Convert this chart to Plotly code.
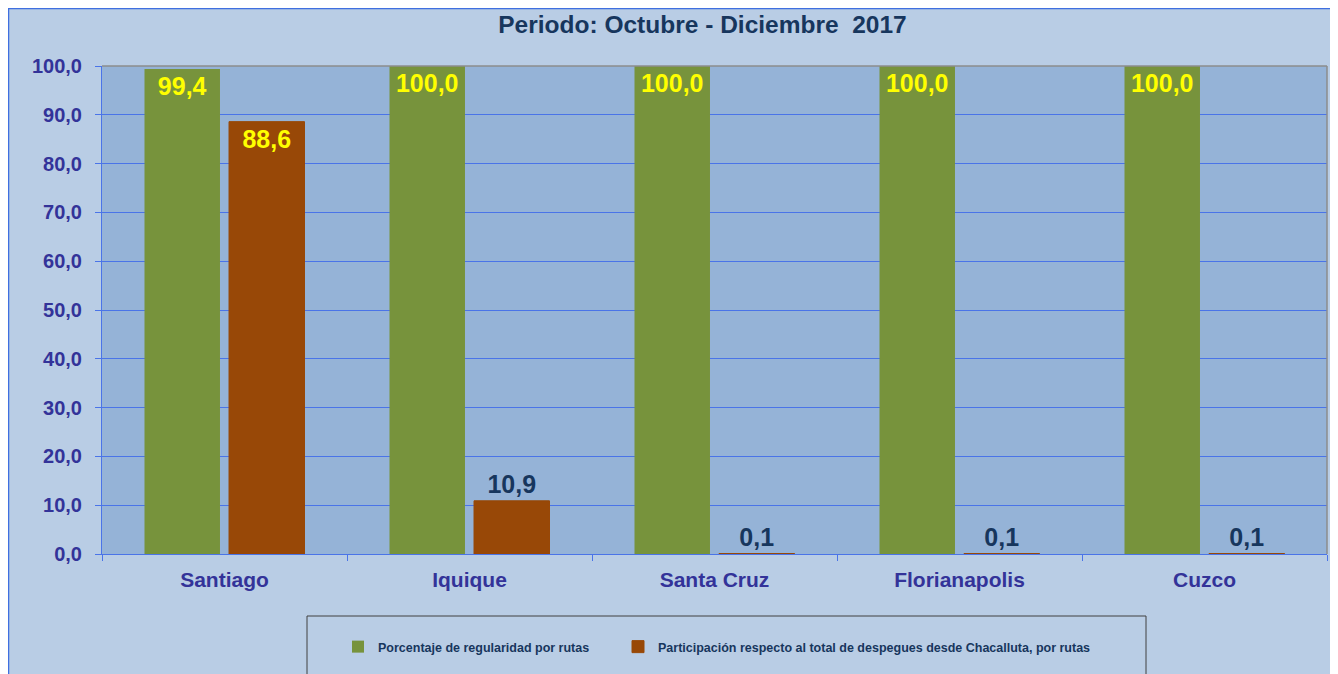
import plotly.graph_objects as go

categories = ["Santiago", "Iquique", "Santa Cruz", "Florianapolis", "Cuzco"]
regularidad = [99.4, 100.0, 100.0, 100.0, 100.0]
participacion = [88.6, 10.9, 0.1, 0.1, 0.1]
series_names = ["Porcentaje de regularidad por rutas",
                "Participación respecto al total de despegues desde Chacalluta, por rutas"]
title_text = "Periodo: Octubre - Diciembre  2017"
y_ticks = [0, 10, 20, 30, 40, 50, 60, 70, 80, 90, 100]

FONT = "Liberation Sans, Arial, sans-serif"
GREEN = "#77933C"
ORANGE = "#984807"
NAVY = "#17365D"
TICKC = "#333399"
GRID = "#4A74E8"

OFF = 8  # default page body margin
W, H = 1338 - OFF, 674 - OFF
L, R, T, B = 94, 11, 58, 120
pw, ph = W - L - R, H - T - B
def px(sx): return (sx - OFF - L) / pw
def py(sy): return (H - B - (sy - OFF)) / ph

def fmt(v):
    return f"{v:.1f}".replace(".", ",")

fig = go.Figure()
fig.add_trace(go.Bar(
    x=categories, y=regularidad, name=series_names[0], legend="legend",
    marker=dict(color=GREEN, line=dict(width=0)),
    text=[fmt(v) for v in regularidad],
    textposition="inside", insidetextanchor="end",
    textfont=dict(color="#FFFF00", size=25, family=FONT, weight="bold"),
    textangle=0,
))
fig.add_trace(go.Bar(
    x=categories, y=participacion, name=series_names[1], legend="legend2",
    marker=dict(color=ORANGE, line=dict(width=1, color=ORANGE)),
    text=[fmt(v) for v in participacion],
    textposition=["inside" if v > 50 else "outside" for v in participacion],
    insidetextanchor="end",
    textfont=dict(color=["#FFFF00" if v > 50 else NAVY for v in participacion],
                  size=25, family=FONT, weight="bold"),
    textangle=0, cliponaxis=False,
))

shapes = [
    # outer chart border
    dict(type="rect", xref="paper", yref="paper", x0=px(8.5), x1=px(1400), y0=py(720), y1=py(8.5),
         fillcolor="#B9CDE5", line=dict(color="#3F6FE0", width=1.5), layer="below"),
    # plot area background
    dict(type="rect", xref="paper", yref="paper", x0=0, x1=1, y0=0, y1=1,
         fillcolor="#95B3D7", line=dict(width=0), layer="below"),
    # top and right border of plot area
    dict(type="line", xref="paper", yref="paper", x0=0, x1=1, y0=1, y1=1,
         line=dict(color="#8C8C8C", width=1.5)),
    dict(type="line", xref="paper", yref="paper", x0=1, x1=1, y0=0, y1=1,
         line=dict(color="#8C8C8C", width=1.5)),
    # legend box
    dict(type="rect", xref="paper", yref="paper", x0=px(307), x1=px(1146), y0=py(720), y1=py(616),
         fillcolor="rgba(0,0,0,0)", line=dict(color="#404040", width=1)),
]

legend_common = dict(orientation="h", xanchor="left", y=py(647), yanchor="middle",
                     bgcolor="rgba(0,0,0,0)", borderwidth=0,
                     font=dict(size=12.5, color=NAVY, family=FONT, weight="bold"))

fig.update_layout(
    width=W, height=H,
    margin=dict(l=L, r=R, t=T, b=B),
    paper_bgcolor="#B9CDE5",
    plot_bgcolor="rgba(0,0,0,0)",
    separators=",.",
    barmode="group", bargap=0.31, bargroupgap=0.107,
    font=dict(family=FONT, color=NAVY),
    title=dict(text=title_text, x=694.5 / W, xanchor="center", y=1 - 16 / H, yanchor="middle",
               font=dict(size=24.5, color=NAVY, family=FONT, weight="bold")),
    shapes=shapes,
    showlegend=True,
    legend=dict(x=px(338), **legend_common),
    legend2=dict(x=px(618), **legend_common),
    xaxis=dict(
        showgrid=False, tickson="boundaries", ticks="outside", ticklen=6, tickcolor=GRID,
        showline=True, linecolor=GRID, linewidth=1, ticklabelstandoff=7,
        tickfont=dict(size=21, color=TICKC, family=FONT, weight="bold"),
    ),
    yaxis=dict(
        range=[0, 100], tickvals=y_ticks, tickformat=".1f",
        showgrid=True, gridcolor=GRID, gridwidth=1,
        ticks="outside", ticklen=6, tickcolor=GRID, ticklabelstandoff=9,
        showline=True, linecolor=GRID, linewidth=1, zeroline=False,
        tickfont=dict(size=20, color=TICKC, family=FONT, weight="bold"),
    ),
)

fig.write_html("out.html")
